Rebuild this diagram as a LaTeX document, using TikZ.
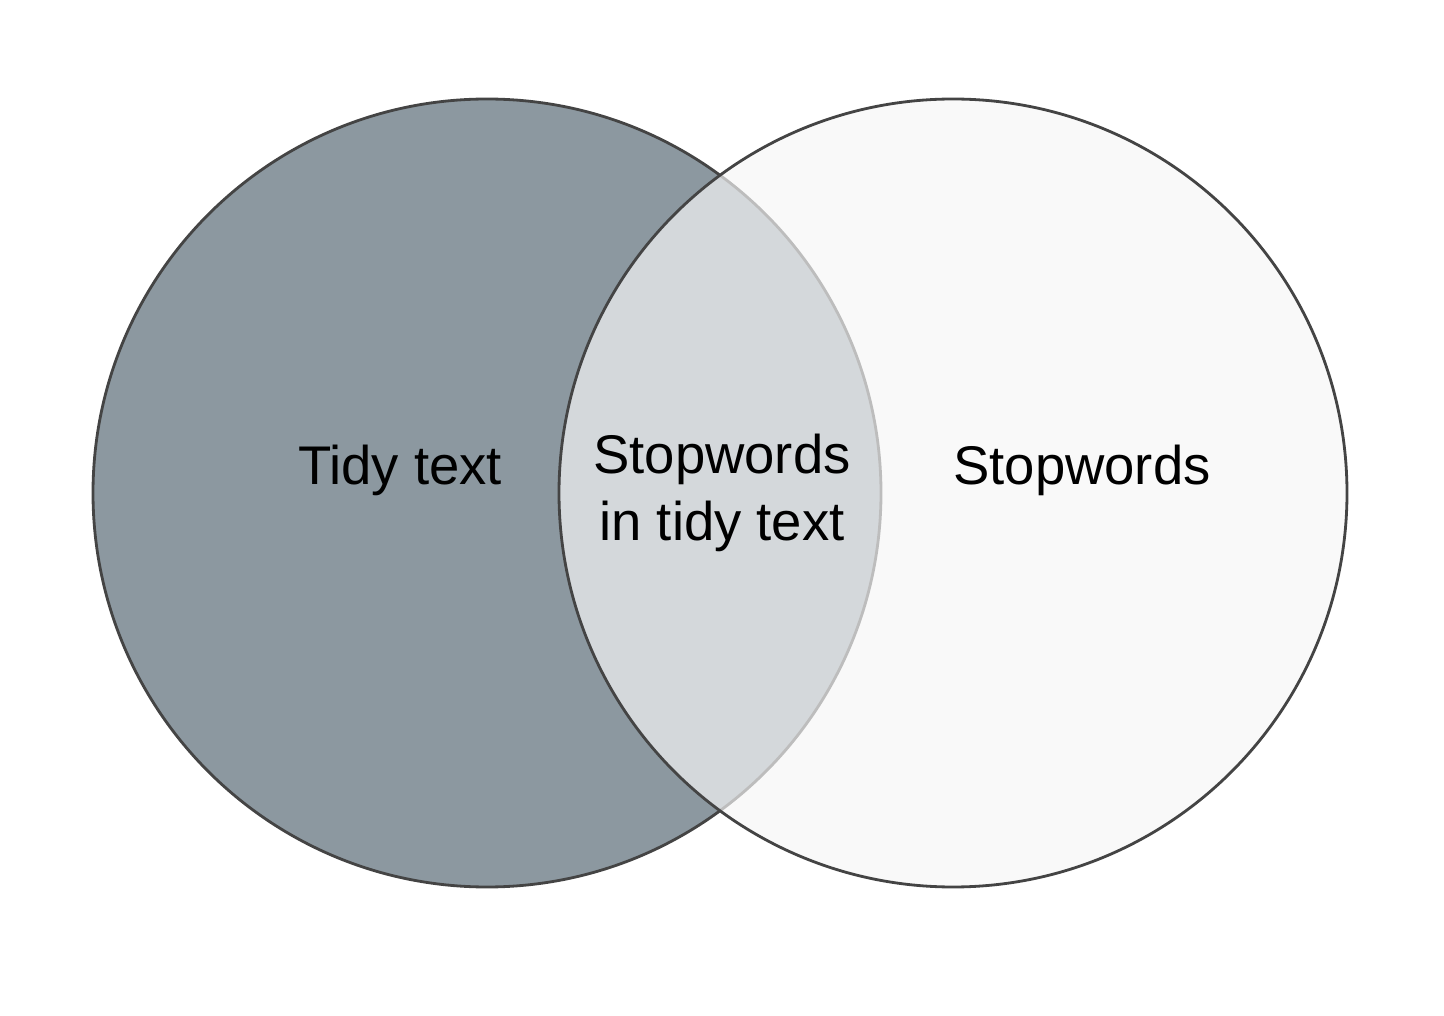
\documentclass[tikz,border=0pt]{standalone}
\usepackage{fontspec}
\setmainfont{Liberation Sans}
\definecolor{tidyfill}{RGB}{140,152,160}
\definecolor{edgegray}{RGB}{68,68,68}
\begin{document}
\begin{tikzpicture}[x=0.02cm,y=-0.02cm,semithick,
    every node/.style={font=\fontsize{31}{38}\selectfont,align=center},
    set/.style={draw=edgegray,line width=1.6pt}]
    \useasboundingbox (0,0) rectangle (1444,1016);
	\fill[white] (0,0) rectangle (1444,1016);
	\draw[set,fill=tidyfill] (487,493) circle (394);
	\draw[set,fill=white!97!black,fill opacity=0.68] (953,493) circle (394);
	\node (tidy) at (400,470) {Tidy text};
	\node (both) at (722,493) {Stopwords\\in tidy text};
	\node (stop) at (1082,470) {Stopwords};
\end{tikzpicture}
\end{document}
